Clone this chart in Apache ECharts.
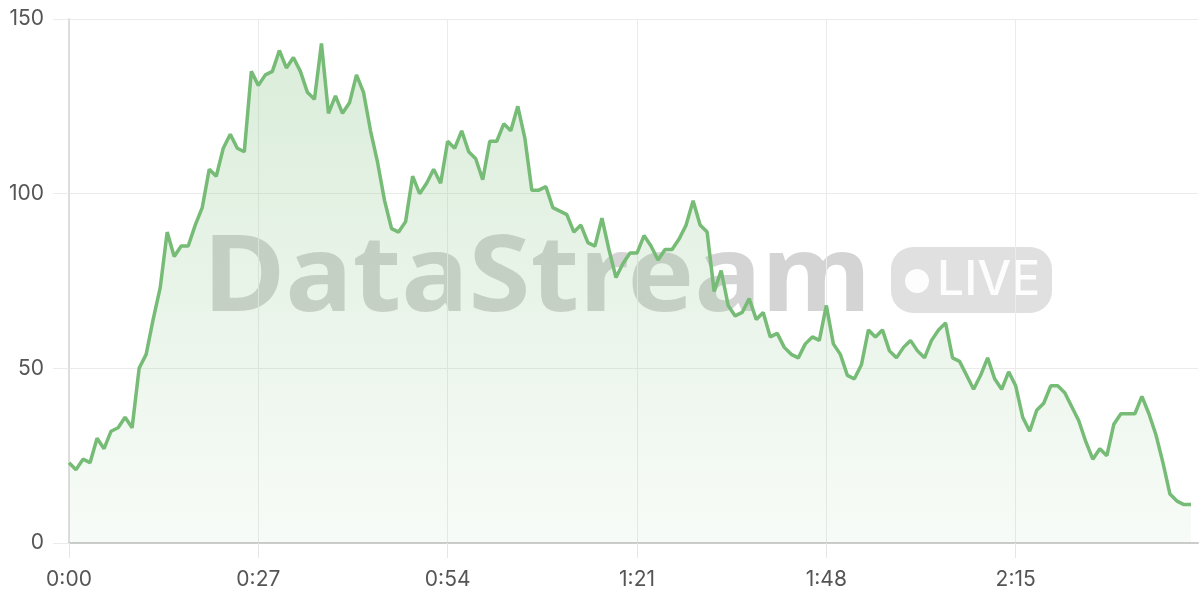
<!DOCTYPE html>
<html>
<head>
<meta charset="utf-8">
<script src="https://cdn.jsdelivr.net/npm/echarts@6/dist/echarts.min.js"></script>
<style>
html,body{margin:0;padding:0;background:#fff;}
#chart{width:1200px;height:600px;}
</style>
</head>
<body>
<div id="chart"></div>
<script>
// Seconds covered by the x axis (category index = second)
const totalSeconds = 162;
const categories = [];
for (let s = 0; s < totalSeconds; s++) {
  categories.push(Math.floor(s / 60) + ':' + String(s % 60).padStart(2, '0'));
}
// One value per second, 0:00 .. 2:40
const values = [
  23, 21, 24, 23, 30, 27, 32, 33, 36, 33,
  50, 54, 64, 73, 89, 82, 85, 85, 91, 96,
  107, 105, 113, 117, 113, 112, 135, 131, 134, 135,
  141, 136, 139, 135, 129, 127, 143, 123, 128, 123,
  126, 134, 129, 118, 109, 98, 90, 89, 92, 105,
  100, 103, 107, 103, 115, 113, 118, 112, 110, 104,
  115, 115, 120, 118, 125, 116, 101, 101, 102, 96,
  95, 94, 89, 91, 86, 85, 93, 84, 76, 80,
  83, 83, 88, 85, 81, 84, 84, 87, 91, 98,
  91, 89, 72, 78, 68, 65, 66, 70, 64, 66,
  59, 60, 56, 54, 53, 57, 59, 58, 68, 57,
  54, 48, 47, 51, 61, 59, 61, 55, 53, 56,
  58, 55, 53, 58, 61, 63, 53, 52, 48, 44,
  48, 53, 47, 44, 49, 45, 36, 32, 38, 40,
  45, 45, 43, 39, 35, 29, 24, 27, 25, 34,
  37, 37, 37, 42, 37, 31, 23, 14, 12, 11,
  11
];
const yMin = 0, yMax = 150, yStep = 50;
const labelStep = 27; // seconds between x labels
const watermarkText = 'DataStream';
const badgeText = 'LIVE';

const onStep = (i) => i % labelStep === 0;

const chart = echarts.init(document.getElementById('chart'), null, {renderer: 'canvas'});
const labelFont = 'Inter';
chart.setOption({
  animation: false,
  backgroundColor: '#ffffff',
  grid: {left: 69, right: 2, top: 19, bottom: 57, containLabel: false},
  graphic: [
    {type: 'text', z: -10, x: 203, y: 281, scaleX: 1.07, scaleY: 1, originX: 0, originY: 0,
     style: {text: watermarkText, fill: 'rgba(0,0,0,0.17)',
             font: 'bold 105px "Noto Sans", sans-serif', verticalAlign: 'middle', align: 'left'}},
    {type: 'rect', z: -10, shape: {x: 891, y: 247, width: 161, height: 66, r: 22},
     style: {fill: 'rgba(0,0,0,0.12)'}},
    {type: 'circle', z: -9, shape: {cx: 917, cy: 281, r: 12},
     style: {fill: 'rgba(255,255,255,0.92)'}},
    {type: 'text', z: -9, x: 937, y: 281,
     style: {text: badgeText, fill: 'rgba(255,255,255,0.92)',
             font: '500 48px Inter, sans-serif', verticalAlign: 'middle', align: 'left'}}
  ],
  xAxis: {
    type: 'category',
    data: categories,
    boundaryGap: false,
    axisLine: {show: true, lineStyle: {color: '#cccccc', width: 2}},
    axisTick: {show: true, interval: onStep, length: 15, lineStyle: {color: '#e6e6e6', width: 1}},
    axisLabel: {interval: onStep, margin: 26, color: '#555555',
                fontSize: 21, fontFamily: labelFont},
    splitLine: {show: true, interval: onStep, lineStyle: {color: '#ebebeb', width: 1}}
  },
  yAxis: {
    type: 'value',
    min: yMin, max: yMax, interval: yStep,
    axisLine: {show: true, lineStyle: {color: '#dddddd', width: 2}},
    axisTick: {show: true, length: 16, lineStyle: {color: '#ebebeb', width: 1}},
    axisLabel: {margin: 25, color: '#555555', fontSize: 21, fontFamily: labelFont},
    splitLine: {show: true, lineStyle: {color: '#ebebeb', width: 1}}
  },
  series: [{
    type: 'line',
    data: values,
    showSymbol: false,
    symbol: 'none',
    z: 3,
    lineStyle: {color: '#76bb76', width: 3.5},
    itemStyle: {color: '#76bb76'},
    areaStyle: {
      color: new echarts.graphic.LinearGradient(0, 0, 0, 1, [
        {offset: 0, color: 'rgba(118,187,118,0.38)'},
        {offset: 1, color: 'rgba(118,187,118,0.08)'}
      ])
    }
  }]
});
</script>
</body>
</html>
